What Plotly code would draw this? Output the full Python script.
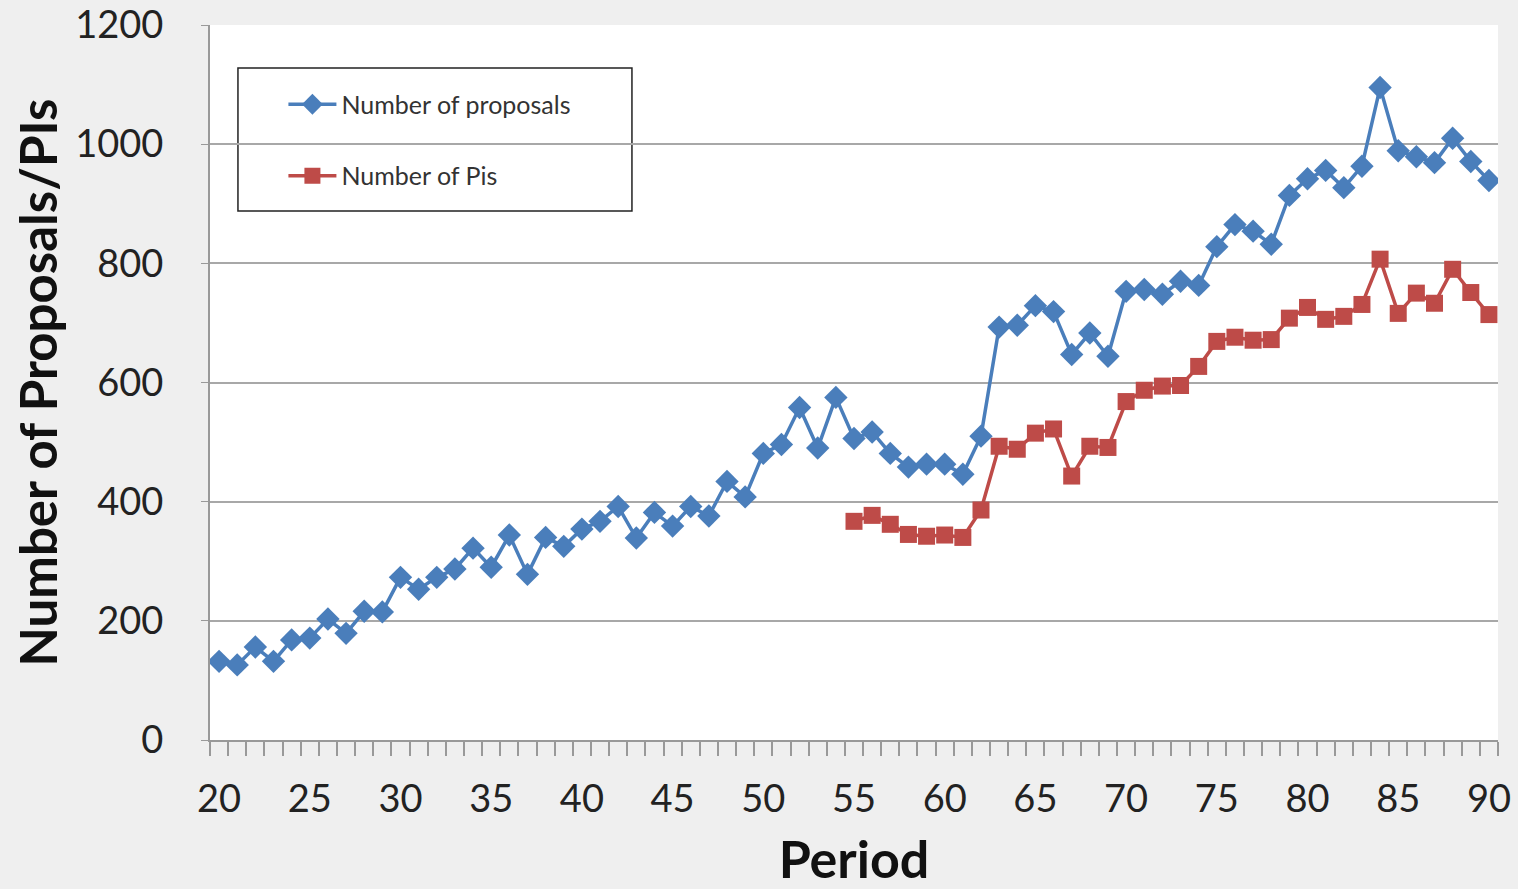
import plotly.graph_objects as go

# Period index for each series
periods_proposals = list(range(20, 91))
proposals = [
    132, 126, 156, 132, 168, 171, 203, 179, 216, 215,
    273, 253, 273, 287, 322, 290, 344, 278, 340, 325,
    354, 367, 392, 339, 382, 359, 392, 376, 434, 408,
    481, 496, 558, 490, 575, 506, 517, 481, 458, 463,
    463, 446, 510, 693, 696, 729, 719, 647, 683, 644,
    753, 756, 748, 770, 763, 828, 865, 854, 832, 914,
    942, 956, 927, 963, 1095, 989, 979, 969, 1010, 971,
    939,
]

periods_pis = list(range(55, 91))
pis = [
    367, 377, 362, 345, 342, 344, 340, 386, 493, 488,
    515, 522, 443, 493, 491, 568, 587, 594, 595, 627,
    669, 676, 671, 672, 708, 726, 706, 711, 731, 807,
    716, 750, 733, 790, 751, 714,
]

x_tick_vals = list(range(20, 91, 5))
y_tick_vals = [0, 200, 400, 600, 800, 1000, 1200]

BLUE = "#4a7ebb"
RED = "#be4b48"
FONT = "Lato, Open Sans, sans-serif"

fig = go.Figure()
fig.add_trace(go.Scatter(
    x=periods_proposals, y=proposals, mode="lines+markers",
    name="Number of proposals", legendgroup="a",
    line=dict(color=BLUE, width=3.5),
    marker=dict(symbol="diamond", size=18, color=BLUE),
))
fig.add_trace(go.Scatter(
    x=periods_pis, y=pis, mode="lines+markers",
    name="Number of Pis", legendgroup="b",
    line=dict(color=RED, width=3.5),
    marker=dict(symbol="square", size=17, color=RED),
))

# Legend frame
fig.add_shape(type="rect", xref="paper", yref="paper",
              x0=0.0217, x1=0.3276, y0=0.740, y1=0.940,
              line=dict(color="#222222", width=1.5),
              fillcolor="white", layer="below")

fig.update_layout(
    width=1518, height=889,
    margin=dict(l=210, r=20, t=25, b=149),
    paper_bgcolor="#efefef",
    plot_bgcolor="white",
    font=dict(family=FONT, color="#222222"),
    showlegend=True,
    legend=dict(
        x=0.057, y=0.921, xanchor="left", yanchor="top",
        bgcolor="rgba(0,0,0,0)", borderwidth=0,
        font=dict(family=FONT, size=25, color="#333333"),
        traceorder="grouped", tracegroupgap=36,
        itemwidth=48,
    ),
    xaxis=dict(
        range=[19.5, 90.5], tickmode="array", tickvals=x_tick_vals,
        ticks="", showgrid=False, zeroline=False, automargin=False,
        showline=True, linecolor="#999999", linewidth=2,
        tickfont=dict(size=38, family=FONT, color="#222222"),
        ticklabelstandoff=24,
        minor=dict(tick0=19.5, dtick=1, ticks="outside", ticklen=14,
                   tickcolor="#999999", tickwidth=1.5, showgrid=False),
        title=dict(text="<b>Period</b>", font=dict(size=52, family=FONT, color="#111111"),
                   standoff=32),
    ),
    yaxis=dict(
        range=[0, 1200], tickmode="array", tickvals=y_tick_vals,
        ticks="outside", ticklen=7, tickcolor="#999999",
        showgrid=True, gridcolor="#a8a8a8", gridwidth=2, automargin=False,
        zeroline=False, showline=True, linecolor="#999999", linewidth=2,
        tickfont=dict(size=38, family=FONT, color="#222222"),
        ticklabelstandoff=30,
        title=dict(text="<b>Number of Proposals/PIs</b>",
                   font=dict(size=51, family=FONT, color="#111111"), standoff=1),
    ),
)

fig.write_html("out.html")
